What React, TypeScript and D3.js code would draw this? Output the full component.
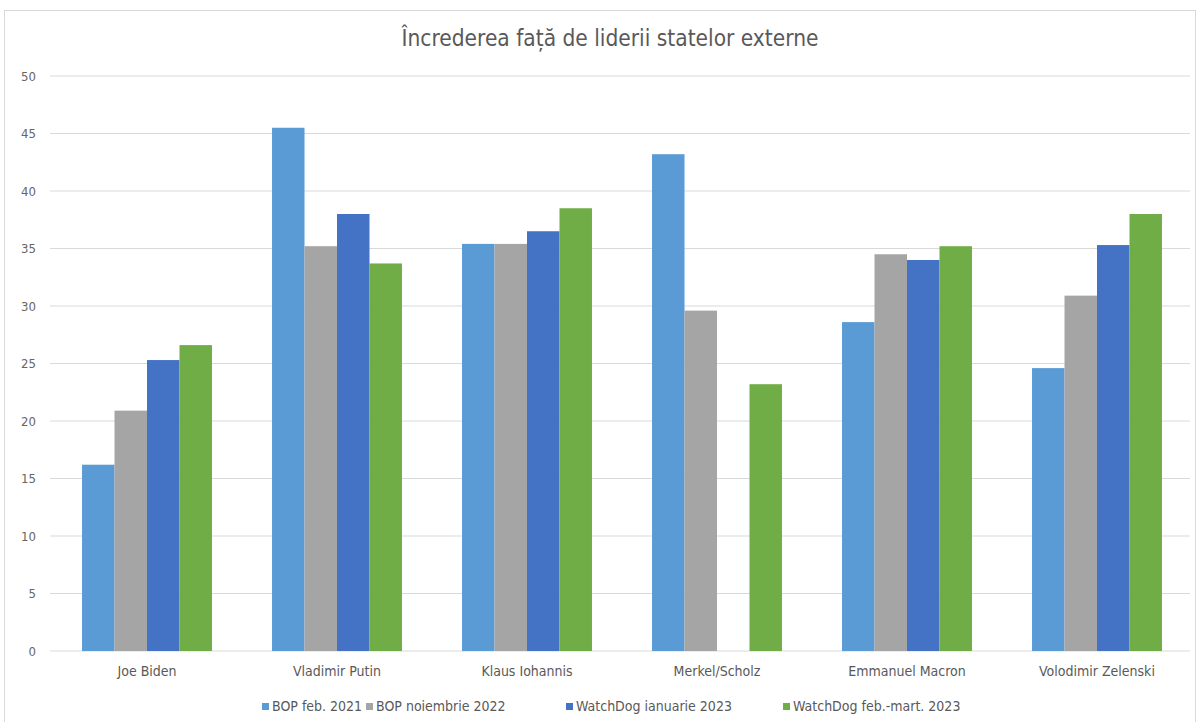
import React from "react";
import * as d3 from "d3";

const categories = ["Joe Biden", "Vladimir Putin", "Klaus Iohannis", "Merkel/Scholz", "Emmanuel Macron", "Volodimir Zelenski"];
const seriesNames = ["BOP feb. 2021", "BOP noiembrie 2022", "WatchDog ianuarie 2023", "WatchDog feb.-mart. 2023"];
const bopFeb2021 = [16.2, 45.5, 35.4, 43.2, 28.6, 24.6];
const bopNov2022 = [20.9, 35.2, 35.4, 29.6, 34.5, 30.9];
const wdJan2023 = [25.3, 38.0, 36.5, null, 34.0, 35.3];
const wdFebMar2023 = [26.6, 33.7, 38.5, 23.2, 35.2, 38.0];
const yTicks = [0, 5, 10, 15, 20, 25, 30, 35, 40, 45, 50];
const colors = ["#5B9BD5", "#A5A5A5", "#4472C4", "#70AD47"];

const W = 1200, H = 722;
const FONT = "'Liberation Sans Narrow', 'DejaVu Sans Condensed', 'Liberation Sans', sans-serif";

export default function App() {
  const series = [bopFeb2021, bopNov2022, wdJan2023, wdFebMar2023];
  const left = 52, right = 1192, top = 76, bottom = 651;
  const x0 = d3.scaleBand<string>().domain(categories).range([left, right]).paddingInner(0.316).paddingOuter(0.158);
  const x1 = d3.scaleBand<number>().domain([0, 1, 2, 3]).range([0, x0.bandwidth()]).padding(0);
  const y = d3.scaleLinear().domain([0, 50]).range([bottom, top]);

  const legendX = [262, 366, 566, 783];

  return (
    <svg width={W} height={H} style={{ position: "absolute", left: 0, top: 0, background: "#fff" }}>
      <rect x={0} y={0} width={W} height={H} fill="#fff" />
      <rect x={4.5} y={10.5} width={1191} height={720} fill="none" stroke="#D9D9D9" strokeWidth={1} />
      <text x={610} y={46} textAnchor="middle" fontFamily={FONT} fontSize={22.5} fill="#595959">
        Încrederea față de liderii statelor externe
      </text>
      {yTicks.map((t) => (
        <g key={t}>
          <line x1={50} x2={1190} y1={y(t)} y2={y(t)} stroke="#D9D9D9" strokeWidth={1} />
          <text x={36} y={y(t) + 4.5} textAnchor="end" fontFamily={FONT} fontSize={13} fill="#666666">
            {t}
          </text>
        </g>
      ))}
      {categories.map((c, i) => (
        <g key={c}>
          {series.map((s, j) => {
            const v = s[i];
            if (v == null) return null;
            return (
              <rect
                key={j}
                x={(x0(c) as number) + (x1(j) as number)}
                y={y(v)}
                width={x1.bandwidth()}
                height={y(0) - y(v)}
                fill={colors[j]}
              />
            );
          })}
          <text
            x={(x0(c) as number) + x0.bandwidth() / 2}
            y={676}
            textAnchor="middle"
            fontFamily={FONT}
            fontSize={14}
            fill="#595959"
          >
            {c}
          </text>
        </g>
      ))}
      {seriesNames.map((n, j) => (
        <g key={n}>
          <rect x={legendX[j]} y={703} width={7} height={7} fill={colors[j]} />
          <text x={legendX[j] + 10} y={711} fontFamily={FONT} fontSize={14} fill="#595959">
            {n}
          </text>
        </g>
      ))}
    </svg>
  );
}
